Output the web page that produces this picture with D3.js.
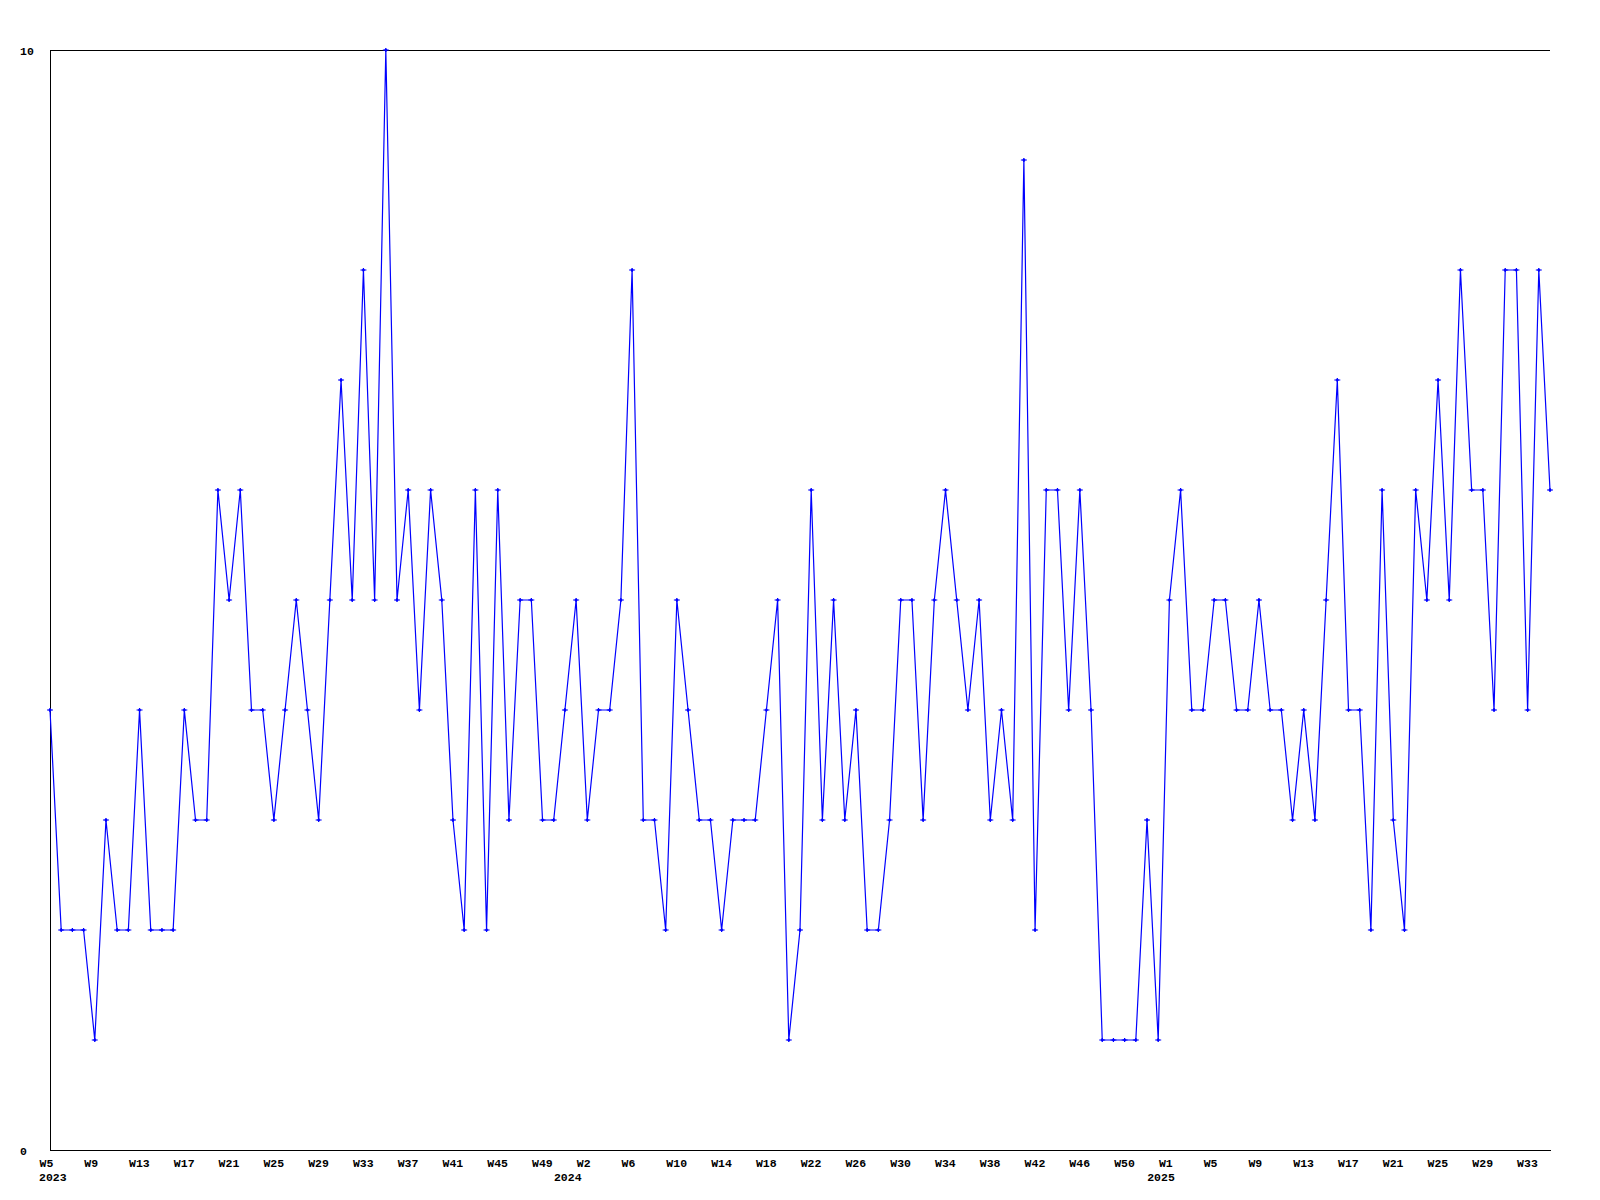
<!DOCTYPE html>
<html>
<head>
<meta charset="utf-8">
<script src="https://cdn.jsdelivr.net/npm/d3@7"></script>
<style>
  html, body { margin: 0; padding: 0; background: #ffffff; }
  svg { display: block; }
  text { font-family: "Liberation Mono", "DejaVu Sans Mono", monospace; font-weight: bold; font-size: 11.5px; fill: #000; }
</style>
</head>
<body>
<script>
// Weekly values, W5 2023 .. W35 2025
const values = [4,2,2,2,1,3,2,2,4,2,
  2,2,4,3,3,6,5,6,4,4,
  3,4,5,4,3,5,7,5,8,5,
  10,5,6,4,6,5,3,2,6,2,
  6,3,5,5,3,3,4,5,3,4,
  4,5,8,3,3,2,5,4,3,3,
  2,3,3,3,4,5,1,2,6,3,
  5,3,4,2,2,3,5,5,3,5,
  6,5,4,5,3,4,3,9,2,6,
  6,4,6,4,1,1,1,1,3,1,
  5,6,4,4,5,5,4,4,5,4,
  4,3,4,3,5,7,4,4,2,6,
  3,2,6,5,7,5,8,6,6,4,
  8,8,4,8,6];

// Tick labels placed every 4 weeks (index into values)
const tickIndices = [0,4,8,12,16,20,24,28,32,36,40,44,48,52,56,60,64,68,72,76,80,84,88,92,96,100,104,108,112,116,120,124,128,132];
const tickLabels = ["W5","W9","W13","W17","W21","W25","W29","W33","W37","W41","W45","W49","W2","W6","W10","W14","W18","W22","W26","W30","W34","W38","W42","W46","W50","W1","W5","W9","W13","W17","W21","W25","W29","W33"];
const yearIndices = [0,46,99];
const yearLabels = ["2023","2024","2025"];
const yTicks = [0,10];

const W = 1600, H = 1200;
const mLeft = 50, mRight = 1550, mTop = 50, mBottom = 1150;

const svg = d3.select("body").append("svg").attr("width", W).attr("height", H);

const x = d3.scaleLinear().domain([0, values.length - 1]).range([mLeft, mRight]);
const y = d3.scaleLinear().domain([0, 10]).range([mBottom, mTop]);

// top border
svg.append("line")
  .attr("x1", mLeft).attr("x2", mRight).attr("y1", y(10) + 0.5).attr("y2", y(10) + 0.5)
  .attr("stroke", "#000").attr("stroke-width", 1).attr("shape-rendering", "crispEdges");

// x axis
const xAxis = d3.axisBottom(x)
  .tickValues(tickIndices)
  .tickFormat((d, i) => tickLabels[i])
  .tickSize(0).tickSizeOuter(0);
const gx = svg.append("g").attr("transform", `translate(0,${mBottom})`).call(xAxis);
gx.attr("font-family", null).attr("font-size", null);
gx.select(".domain").attr("stroke", "#000").attr("shape-rendering", "crispEdges");
gx.selectAll(".tick text")
  .attr("text-anchor", "start")
  .attr("x", -11)
  .attr("y", 12.5)
  .attr("dy", "0.35em");

// year labels
svg.append("g").selectAll("text").data(yearIndices).join("text")
  .attr("x", d => x(d) - 11)
  .attr("y", mBottom + 26.5)
  .attr("dy", "0.35em")
  .text((d, i) => yearLabels[i]);

// y axis
const yAxis = d3.axisLeft(y).tickValues(yTicks).tickFormat(d3.format("d")).tickSize(0).tickSizeOuter(0);
const gy = svg.append("g").attr("transform", `translate(${mLeft},0)`).call(yAxis);
gy.attr("font-family", null).attr("font-size", null);
gy.select(".domain").attr("stroke", "#000").attr("shape-rendering", "crispEdges");
gy.selectAll(".tick text")
  .attr("text-anchor", "start")
  .attr("x", 20 - mLeft)
  .attr("dy", "0.35em");

// line
const line = d3.line().x((d, i) => x(i)).y(d => y(d));
svg.append("path")
  .datum(values)
  .attr("d", line)
  .attr("fill", "none")
  .attr("stroke", "#0000ff")
  .attr("stroke-width", 1.2);

// markers
svg.append("g").selectAll("path").data(values).join("path")
  .attr("transform", (d, i) => `translate(${x(i)},${y(d)})`)
  .attr("d", "M-3,0H3M0,-2V2")
  .attr("stroke", "#0000ff")
  .attr("stroke-width", 1.2)
  .attr("fill", "none");
svg.append("g").selectAll("path").data(values).join("path")
  .attr("transform", (d, i) => `translate(${x(i)},${y(d)})`)
  .attr("d", "M0,-1.8L1.8,0L0,1.8L-1.8,0Z")
  .attr("fill", "#0000ff");
</script>
</body>
</html>
